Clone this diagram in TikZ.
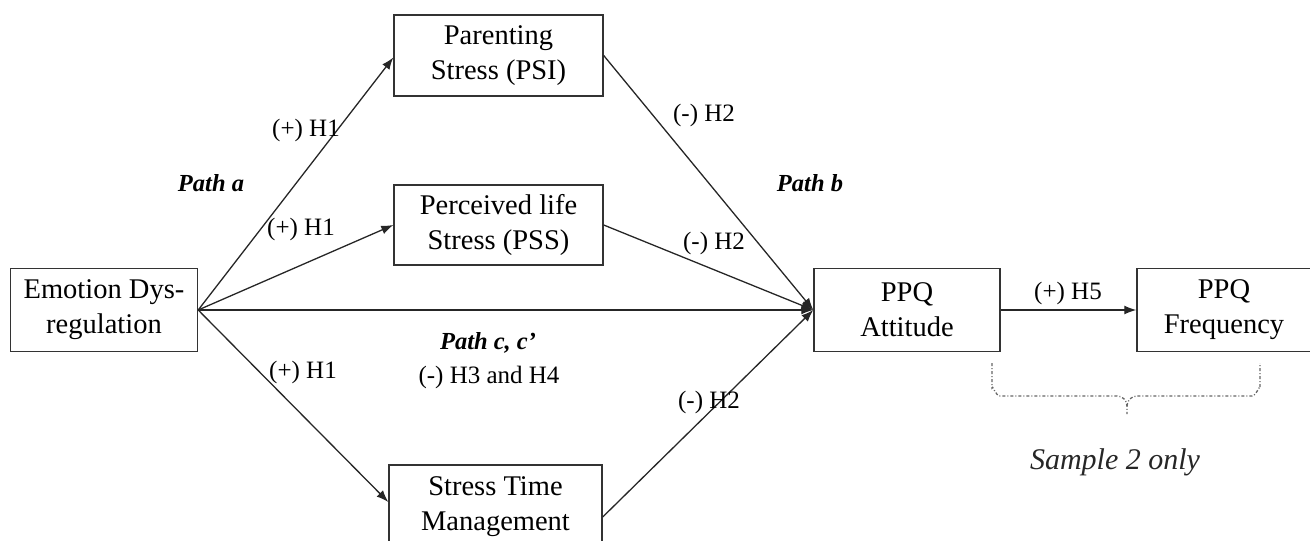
\documentclass[tikz,border=0pt]{standalone}
\usepackage{fontspec}
\setmainfont{Liberation Serif}
\usetikzlibrary{arrows.meta,calc}
\begin{document}
\begin{tikzpicture}[x=1pt,y=-1pt,
 box/.style={draw=black!80,line width=1.4pt,rectangle,align=center,font=\fontsize{28.5}{35}\selectfont,inner sep=0pt},
 lab/.style={font=\fontsize{25}{30}\selectfont,inner sep=0pt},
 pathlab/.style={font=\fontsize{24.5}{30}\selectfont\bfseries\itshape,inner sep=0pt},
 arr/.style={draw=black!85,line width=1.3pt,-{Latex[length=12pt,width=9pt]}},
 brace/.style={draw=black!60,line width=1.3pt,dash pattern=on 3pt off 2pt on 1pt off 2pt}]
\useasboundingbox (0,0) rectangle (1310,541);
\node[box,minimum width=187pt,minimum height=83pt] (emo) at (104,310) {Emotion Dys-\\regulation};
\node[box,minimum width=209pt,minimum height=81pt] (psi) at (498.5,55.5) {Parenting\\Stress (PSI)};
\node[box,minimum width=209pt,minimum height=80pt] (pss) at (498.5,225) {Perceived life\\Stress (PSS)};
\node[box,minimum width=213pt,minimum height=84pt] (stm) at (495.5,507) {Stress Time\\Management};
\node[box,minimum width=186pt,minimum height=83pt] (att) at (907,310) {PPQ\\Attitude};
\node[box,minimum width=174pt,minimum height=83pt] (frq) at (1224,310) {PPQ\\Frequency};
% arrows
\draw[arr] (emo.east) -- ([yshift=-2pt]psi.west);
\draw[arr] (emo.east) -- (pss.west);
\draw[arr] (emo.east) -- ([yshift=5pt]stm.west);
\draw[arr] (emo.east) -- (att.west);
\draw[arr] (psi.east) -- (att.west);
\draw[arr] (pss.east) -- (att.west);
\draw[arr] ([yshift=-10pt]stm.east) -- (att.west);
\draw[arr] (att.east) -- (frq.west);
% labels
\node[lab] (l1) at (306,130) {(+) H1};
\node[pathlab] (pa) at (211,183) {Path a};
\node[lab] (l2) at (301,229) {(+) H1};
\node[lab] (l3) at (303,372) {(+) H1};
\node[lab] (l4) at (704,115) {(-) H2};
\node[pathlab] (pb) at (810,183) {Path b};
\node[lab] (l5) at (714,243) {(-) H2};
\node[pathlab] (pc) at (488,343) {Path c, c’};
\node[lab] (l6) at (489,377) {(-) H3 and H4};
\node[lab] (l7) at (709,402) {(-) H2};
\node[lab] (l8) at (1068,293) {(+) H5};
\node[font=\fontsize{30}{36}\selectfont\itshape,inner sep=0pt,text=black!85] (s2) at (1115,462) {Sample 2 only};
% brace
\draw[brace] (992,363) -- (992,388) to[out=90,in=180] (1000,396) -- (1117,396) to[out=0,in=90] (1127,406) -- (1127,414);
\draw[brace] (1127,406) to[out=90,in=180] (1137,396) -- (1252,396) to[out=0,in=90] (1260,388) -- (1260,363);
\end{tikzpicture}
\end{document}
